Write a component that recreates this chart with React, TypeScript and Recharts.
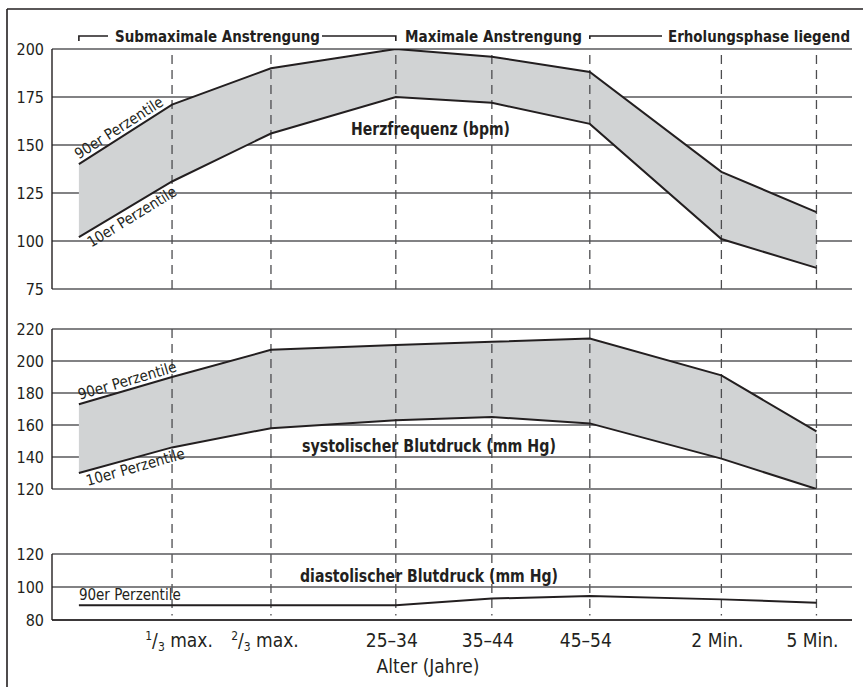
import React from "react";
import {
  ComposedChart,
  Area,
  Line,
  XAxis,
  YAxis,
  CartesianGrid,
  ReferenceLine,
} from "recharts";

// x categories (the first point has no label) and their spacing along the axis
const categories = ["", "1/3 max.", "2/3 max.", "25–34", "35–44", "45–54", "2 Min.", "5 Min."];
const xPos = [0, 0.97, 2, 3.3, 4.3, 5.32, 6.69, 7.68];

// Herzfrequenz (bpm)
const hr90 = [140, 171, 190, 200, 196, 188, 136, 115];
const hr10 = [102, 131, 156, 175, 172, 161, 101, 86];

// systolischer Blutdruck (mm Hg)
const sys90 = [173, 190, 207, 210, 212, 214, 191, 156];
const sys10 = [130, 146, 158, 163, 165, 161, 139, 120];

// diastolischer Blutdruck (mm Hg)
const dia90 = [89, 89, 89, 89, 93, 94.5, 92.5, 90.5];

const hrTicks = [75, 100, 125, 150, 175, 200];
const sysTicks = [120, 140, 160, 180, 200, 220];
const diaTicks = [80, 100, 120];

const hrData = xPos.map((pos, i) => ({ pos, p90: hr90[i], p10: hr10[i], band: [hr10[i], hr90[i]] }));
const sysData = xPos.map((pos, i) => ({ pos, p90: sys90[i], p10: sys10[i], band: [sys10[i], sys90[i]] }));
const diaData = xPos.map((pos, i) => ({ pos, p90: dia90[i] }));

const FONT = '"Liberation Sans Narrow", "Arial Narrow", "DejaVu Sans Condensed", sans-serif';
const INK = "#231f20";
const GRID = "#58595b";
const BAND = "#d1d3d4";
const DASH = "#4d4d4f";

const W = 863;
const PLOT_L = 52;
const PLOT_W = 800;
const X_DOMAIN: [number, number] = [-0.28, 8.05];

// layout of the three panels (pixel rows of their plot areas)
const HR_TOP = 49, HR_BOT = 289;
const SYS_TOP = 329, SYS_BOT = 489;
const DIA_TOP = 554, DIA_BOT = 620;

const px = (v: number) => PLOT_L + ((v - X_DOMAIN[0]) / (X_DOMAIN[1] - X_DOMAIN[0])) * PLOT_W;
const pyHr = (v: number) => HR_TOP + ((200 - v) / 125) * (HR_BOT - HR_TOP);
const pySys = (v: number) => SYS_TOP + ((220 - v) / 100) * (SYS_BOT - SYS_TOP);
const pyDia = (v: number) => DIA_TOP + ((120 - v) / 40) * (DIA_BOT - DIA_TOP);

const yTick = { fontSize: 16, fill: INK, fontFamily: FONT };
const tickNudge = [0, 7, -6, -4, -4, -4, -4, -4];

const XTick = (props: any) => {
  const { x, y, payload } = props;
  const i = xPos.indexOf(payload.value);
  const label = categories[i];
  if (!label) return null;
  const frac = label.match(/^(\d)\/(\d) (.*)$/);
  return (
    <text
      x={x + tickNudge[i]}
      y={y + 19}
      textAnchor="middle"
      fontFamily={FONT}
      fontSize={19}
      fill={INK}
    >
      {frac ? (
        <>
          <tspan fontSize={12} dy={-7}>{frac[1]}</tspan>
          <tspan dy={7}>/</tspan>
          <tspan fontSize={12} dy={4}>{frac[2]}</tspan>
          <tspan dy={-4}>{" " + frac[3]}</tspan>
        </>
      ) : (
        label
      )}
    </text>
  );
};

// rotated label that follows the first segment of a line
const AlongLabel = ({ x0, y0, x1, y1, text, off }: any) => {
  const ang = Math.atan2(y1 - y0, x1 - x0);
  const sx = x0 + 2;
  const sy = y0 + Math.tan(ang) * 2;
  return (
    <text
      transform={`translate(${sx},${sy}) rotate(${(ang * 180) / Math.PI})`}
      x={0}
      y={off}
      fontFamily={FONT}
      fontSize={15}
      fill={INK}
    >
      {text}
    </text>
  );
};

const dashes = xPos.slice(1);

export default function App() {
  return (
    <div style={{ position: "absolute", left: 0, top: 0, width: W, height: 687, background: "#fff" }}>
      <div style={{ position: "absolute", left: 0, top: 0 }}>
        <ComposedChart width={W} height={302} data={hrData} margin={{ top: HR_TOP, right: 11, bottom: 302 - HR_BOT, left: 0 }}>
          <CartesianGrid vertical={false} stroke={GRID} strokeWidth={1.4} />
          <XAxis type="number" dataKey="pos" domain={X_DOMAIN} hide allowDataOverflow />
          <YAxis domain={[75, 200]} ticks={hrTicks} interval={0} width={PLOT_L} tickLine={false} axisLine={{ stroke: INK, strokeWidth: 1.4 }} tick={yTick} allowDataOverflow />
          <Area dataKey="band" fill={BAND} fillOpacity={1} stroke="none" isAnimationActive={false} />
          {dashes.map((p) => (
            <ReferenceLine key={p} x={p} stroke={DASH} strokeWidth={1.3} strokeDasharray="9 6" />
          ))}
          <Line dataKey="p90" stroke={INK} strokeWidth={2} dot={false} isAnimationActive={false} />
          <Line dataKey="p10" stroke={INK} strokeWidth={2} dot={false} isAnimationActive={false} />
        </ComposedChart>
      </div>

      <div style={{ position: "absolute", left: 0, top: 305 }}>
        <ComposedChart width={W} height={325} data={sysData} margin={{ top: SYS_TOP - 305, right: 11, bottom: 630 - SYS_BOT, left: 0 }}>
          <CartesianGrid vertical={false} stroke={GRID} strokeWidth={1.4} />
          <XAxis type="number" dataKey="pos" domain={X_DOMAIN} hide allowDataOverflow />
          <YAxis domain={[120, 220]} ticks={sysTicks} interval={0} width={PLOT_L} tickLine={false} axisLine={{ stroke: INK, strokeWidth: 1.4 }} tick={yTick} allowDataOverflow />
          <Area dataKey="band" fill={BAND} fillOpacity={1} stroke="none" isAnimationActive={false} />
          {/* dashed guides run on through the diastolic panel below */}
          {dashes.map((p) => (
            <ReferenceLine
              key={p}
              segment={[{ x: p, y: 220 }, { x: p, y: 41 }]}
              ifOverflow="visible"
              stroke={DASH}
              strokeWidth={1.3}
              strokeDasharray="9 6"
            />
          ))}
          <Line dataKey="p90" stroke={INK} strokeWidth={2} dot={false} isAnimationActive={false} />
          <Line dataKey="p10" stroke={INK} strokeWidth={2} dot={false} isAnimationActive={false} />
        </ComposedChart>
      </div>

      <div style={{ position: "absolute", left: 0, top: 540 }}>
        <ComposedChart width={W} height={147} data={diaData} margin={{ top: DIA_TOP - 540, right: 11, bottom: 0, left: 0 }}>
          <CartesianGrid vertical={false} stroke={GRID} strokeWidth={1.4} />
          <XAxis
            type="number"
            dataKey="pos"
            domain={X_DOMAIN}
            ticks={dashes}
            interval={0}
            height={687 - DIA_BOT}
            tickLine={false}
            axisLine={{ stroke: INK, strokeWidth: 1.4 }}
            tick={<XTick />}
            allowDataOverflow
          />
          <YAxis domain={[80, 120]} ticks={diaTicks} interval={0} width={PLOT_L} tickLine={false} axisLine={{ stroke: INK, strokeWidth: 1.4 }} tick={yTick} allowDataOverflow />
          <Line dataKey="p90" stroke={INK} strokeWidth={2} dot={false} isAnimationActive={false} />
        </ComposedChart>
      </div>

      <svg width={W} height={687} style={{ position: "absolute", left: 0, top: 0, pointerEvents: "none" }}>
        {/* frame */}
        <line x1={7} y1={9} x2={W} y2={9} stroke={INK} strokeWidth={1.6} />
        <line x1={7} y1={9} x2={7} y2={687} stroke={INK} strokeWidth={1.6} />

        {/* phase brackets */}
        <g stroke={INK} strokeWidth={1.6} fill="none">
          <polyline points={`${px(xPos[0])},41 ${px(xPos[0])},36 108,36`} />
          <polyline points={`322,36 ${px(xPos[3])},36 ${px(xPos[3])},41`} />
          <polyline points={`${px(xPos[5])},39 ${px(xPos[5])},36 662,36`} />
        </g>
        <g fontFamily={FONT} fontWeight="bold" fontSize={16} fill={INK}>
          <text x={115} y={42} textLength={205} lengthAdjust="spacingAndGlyphs">Submaximale Anstrengung</text>
          <text x={405} y={42} textLength={177} lengthAdjust="spacingAndGlyphs">Maximale Anstrengung</text>
          <text x={668} y={42} textLength={182} lengthAdjust="spacingAndGlyphs">Erholungsphase liegend</text>
        </g>

        {/* panel titles */}
        <g fontFamily={FONT} fontWeight="bold" fontSize={17} fill={INK}>
          <text x={351} y={135} textLength={159} lengthAdjust="spacingAndGlyphs">Herzfrequenz (bpm)</text>
          <text x={302} y={452} textLength={254} lengthAdjust="spacingAndGlyphs">systolischer Blutdruck (mm Hg)</text>
          <text x={300} y={582} textLength={258} lengthAdjust="spacingAndGlyphs">diastolischer Blutdruck (mm Hg)</text>
        </g>

        {/* percentile labels */}
        <AlongLabel x0={px(xPos[0])} y0={pyHr(hr90[0])} x1={px(xPos[1])} y1={pyHr(hr90[1])} off={-4} text="90er Perzentile" />
        <AlongLabel x0={px(xPos[0]) + 3} y0={pyHr(hr10[0])} x1={px(xPos[1])} y1={pyHr(hr10[1])} off={14} text="10er Perzentile" />
        <AlongLabel x0={px(xPos[0])} y0={pySys(sys90[0])} x1={px(xPos[1])} y1={pySys(sys90[1])} off={-4} text="90er Perzentile" />
        <AlongLabel x0={px(xPos[0]) + 3} y0={pySys(sys10[0])} x1={px(xPos[1])} y1={pySys(sys10[1])} off={14} text="10er Perzentile" />
        <text x={px(xPos[0])} y={pyDia(dia90[0]) - 5} fontFamily={FONT} fontSize={15} fill={INK}>90er Perzentile</text>

        <text x={428} y={673} textAnchor="middle" fontFamily={FONT} fontSize={19} fill={INK}>Alter (Jahre)</text>
      </svg>
    </div>
  );
}
